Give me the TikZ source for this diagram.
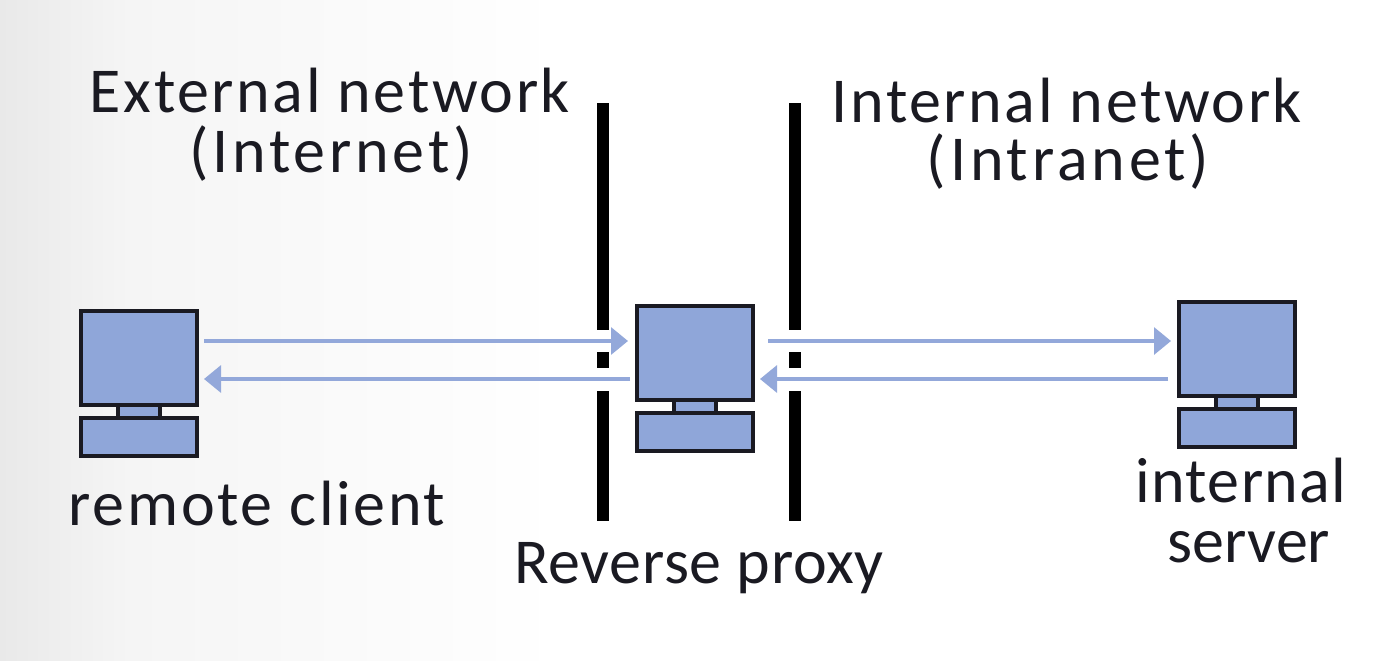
\documentclass[tikz,border=0pt]{standalone}
\usepackage{fontspec}
\setmainfont{Carlito}
\usetikzlibrary{arrows.meta}
\definecolor{pcblue}{HTML}{8FA6D9}
\definecolor{arrowblue}{HTML}{93A8DA}
\definecolor{inkdark}{HTML}{1A1A22}
\definecolor{edgegray}{HTML}{E9E9E9}
\definecolor{midgray}{HTML}{F5F5F5}
\newcommand{\ls}[1]{\addfontfeature{LetterSpace=#1}}
\tikzset{
 x=1pt,y=-1pt,
 pcpart/.style={draw=inkdark,line width=3.6pt,fill=pcblue,inner sep=0pt,outer sep=0pt,rectangle},
 barline/.style={line width=12.5pt,black},
 flow/.style={draw=arrowblue,line width=3.2pt,-{Triangle[length=17pt,width=27pt]}},
 lab/.style={anchor=base,inner sep=0pt,text=inkdark,font=\fontsize{64}{64}\selectfont},
}
\newcommand{\pcunit}[3]{% name, left x, top y
 \node[pcpart,minimum width=116pt,minimum height=94pt,anchor=north west] (#1mon) at (#2,#3) {};
 \node[pcpart,minimum width=42pt,minimum height=13pt,anchor=north] (#1neck) at (#1mon.south) {};
 \node[pcpart,minimum width=116pt,minimum height=38pt,anchor=north] (#1base) at (#1neck.south) {};
}
\begin{document}
\begin{tikzpicture}
\useasboundingbox (0,0) rectangle (1400,661);
\fill[white] (0,0) rectangle (1400,661);
\shade[left color=edgegray,right color=midgray] (0,0) rectangle (130,661);
\shade[left color=midgray,right color=white] (130,0) rectangle (560,661);

\coordinate (b1a) at (603,103); \coordinate (b1b) at (603,330);
\coordinate (b1c) at (603,352); \coordinate (b1d) at (603,368);
\coordinate (b1e) at (603,391); \coordinate (b1f) at (603,521);
\coordinate (b2a) at (795,103); \coordinate (b2b) at (795,330);
\coordinate (b2c) at (795,352); \coordinate (b2d) at (795,368);
\coordinate (b2e) at (795,391); \coordinate (b2f) at (795,521);
\draw[barline] (b1a) -- (b1b) (b1c) -- (b1d) (b1e) -- (b1f);
\draw[barline] (b2a) -- (b2b) (b2c) -- (b2d) (b2e) -- (b2f);

\pcunit{l}{81}{311}
\pcunit{m}{637}{306}
\pcunit{r}{1179}{302}

\coordinate (a1s) at (204,341); \coordinate (a1e) at (628,341);
\coordinate (a2s) at (630,379); \coordinate (a2e) at (204,379);
\coordinate (a3s) at (768,341); \coordinate (a3e) at (1171,341);
\coordinate (a4s) at (1168,379); \coordinate (a4e) at (760,379);
\draw[flow] (a1s) -- (a1e);
\draw[flow] (a2s) -- (a2e);
\draw[flow] (a3s) -- (a3e);
\draw[flow] (a4s) -- (a4e);

\node[lab] (ext1) at (330,112) {\ls{4}External network};
\node[lab] (ext2) at (331,172) {\ls{6}(Internet)};
\node[lab] (int1) at (1067,122) {\ls{4}Internal network};
\node[lab] (int2) at (1068,180) {\ls{6}(Intranet)};
\node[lab] (cli) at (257,525) {\ls{4}remote client};
\node[lab] (rev) at (699,583) {\ls{1}Reverse proxy};
\node[lab] (srv1) at (1241,502) {\ls{2}internal};
\node[lab] (srv2) at (1249,562) {server};
\end{tikzpicture}
\end{document}
